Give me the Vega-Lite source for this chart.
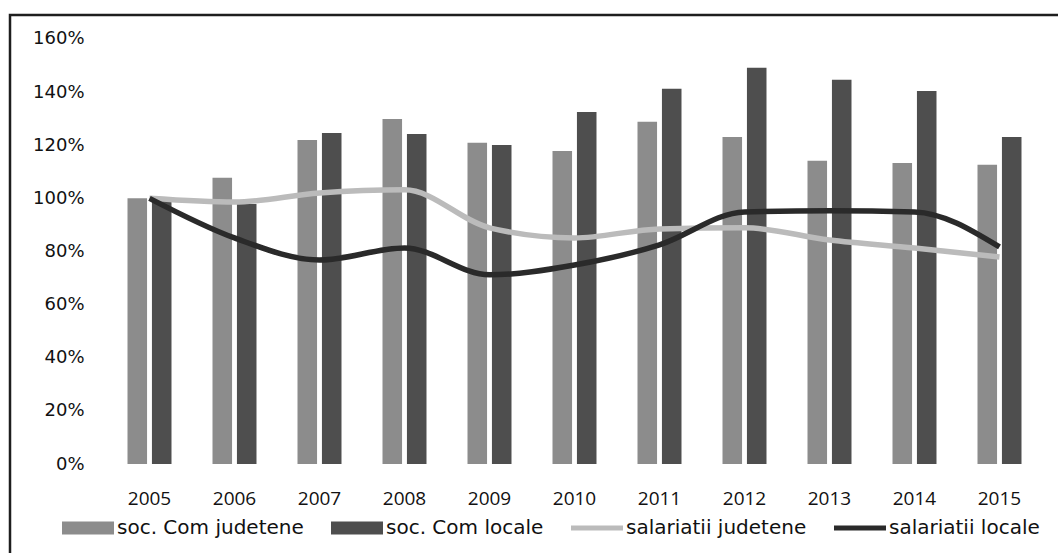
{
  "$schema": "https://vega.github.io/schema/vega-lite/v6.json",
  "width": 1060,
  "height": 550,
  "autosize": {"type": "none"},
  "padding": {"left": 10, "top": 15, "right": -12, "bottom": -12},
  "background": "white",
  "config": {"view": {"stroke": "#1e1e1e", "strokeWidth": 2.5}},
  "data": {"values": [
    {"year": "2005", "series": "soc. Com judetene", "value": 1.00},
    {"year": "2006", "series": "soc. Com judetene", "value": 1.077},
    {"year": "2007", "series": "soc. Com judetene", "value": 1.22},
    {"year": "2008", "series": "soc. Com judetene", "value": 1.299},
    {"year": "2009", "series": "soc. Com judetene", "value": 1.209},
    {"year": "2010", "series": "soc. Com judetene", "value": 1.178},
    {"year": "2011", "series": "soc. Com judetene", "value": 1.288},
    {"year": "2012", "series": "soc. Com judetene", "value": 1.231},
    {"year": "2013", "series": "soc. Com judetene", "value": 1.141},
    {"year": "2014", "series": "soc. Com judetene", "value": 1.133},
    {"year": "2015", "series": "soc. Com judetene", "value": 1.126},
    {"year": "2005", "series": "soc. Com locale", "value": 1.00},
    {"year": "2006", "series": "soc. Com locale", "value": 0.979},
    {"year": "2007", "series": "soc. Com locale", "value": 1.246},
    {"year": "2008", "series": "soc. Com locale", "value": 1.242},
    {"year": "2009", "series": "soc. Com locale", "value": 1.201},
    {"year": "2010", "series": "soc. Com locale", "value": 1.325},
    {"year": "2011", "series": "soc. Com locale", "value": 1.412},
    {"year": "2012", "series": "soc. Com locale", "value": 1.491},
    {"year": "2013", "series": "soc. Com locale", "value": 1.446},
    {"year": "2014", "series": "soc. Com locale", "value": 1.404},
    {"year": "2015", "series": "soc. Com locale", "value": 1.231},
    {"year": "2005", "series": "salariatii judetene", "value": 1.00},
    {"year": "2006", "series": "salariatii judetene", "value": 0.986},
    {"year": "2007", "series": "salariatii judetene", "value": 1.02},
    {"year": "2008", "series": "salariatii judetene", "value": 1.032},
    {"year": "2009", "series": "salariatii judetene", "value": 0.889},
    {"year": "2010", "series": "salariatii judetene", "value": 0.851},
    {"year": "2011", "series": "salariatii judetene", "value": 0.885},
    {"year": "2012", "series": "salariatii judetene", "value": 0.889},
    {"year": "2013", "series": "salariatii judetene", "value": 0.843},
    {"year": "2014", "series": "salariatii judetene", "value": 0.813},
    {"year": "2015", "series": "salariatii judetene", "value": 0.779},
    {"year": "2005", "series": "salariatii locale", "value": 1.00},
    {"year": "2006", "series": "salariatii locale", "value": 0.851},
    {"year": "2007", "series": "salariatii locale", "value": 0.768},
    {"year": "2008", "series": "salariatii locale", "value": 0.813},
    {"year": "2009", "series": "salariatii locale", "value": 0.712},
    {"year": "2010", "series": "salariatii locale", "value": 0.749},
    {"year": "2011", "series": "salariatii locale", "value": 0.825},
    {"year": "2012", "series": "salariatii locale", "value": 0.949},
    {"year": "2013", "series": "salariatii locale", "value": 0.953},
    {"year": "2014", "series": "salariatii locale", "value": 0.949},
    {"year": "2015", "series": "salariatii locale", "value": 0.817}
  ]},
  "encoding": {
    "x": {
      "field": "year",
      "type": "nominal",
      "scale": {"type": "band", "paddingInner": 0.4824, "paddingOuter": 0.9765, "align": 0.7078, "round": false},
      "axis": {
        "title": null,
        "labelAngle": 0,
        "domain": false,
        "ticks": false,
        "grid": false,
        "labelFont": "Open Sans",
        "labelFontSize": 19,
        "labelColor": "#111111",
        "labelPadding": 0,
        "labelBaseline": "top",
        "offset": -76
      }
    },
    "y": {
      "field": "value",
      "type": "quantitative",
      "scale": {"domain": [-0.38, 1.69], "nice": false, "zero": false},
      "axis": {
        "title": null,
        "values": [0, 0.2, 0.4, 0.6, 0.8, 1.0, 1.2, 1.4, 1.6],
        "format": ".0%",
        "domain": false,
        "ticks": false,
        "grid": false,
        "labelFont": "DejaVu Sans",
        "labelFontSize": 18,
        "labelColor": "#111111",
        "labelPadding": 0,
        "offset": -74
      }
    },
    "color": {
      "field": "series",
      "type": "nominal",
      "scale": {
        "domain": ["soc. Com judetene", "soc. Com locale", "salariatii judetene", "salariatii locale"],
        "range": ["#8c8c8c", "#4e4e4e", "#bbbbbb", "#2a2a2a"]
      },
      "legend": {
        "title": null,
        "orient": "none",
        "legendX": 52,
        "legendY": 487,
        "direction": "horizontal",
        "columns": 4,
        "symbolSize": 2704,
        "labelFont": "DejaVu Sans",
        "labelFontSize": 20,
        "labelColor": "#111111",
        "labelOffset": 3,
        "labelLimit": 400,
        "columnPadding": 27,
        "padding": 0,
        "encode": {
          "symbols": {
            "update": {
              "shape": {"signal": "(datum.value === 'salariatii judetene' || datum.value === 'salariatii locale') ? 'M-1,-0.1L1,-0.1L1,0.1L-1,0.1Z' : 'M-1,-0.25L1,-0.25L1,0.25L-1,0.25Z'"},
              "fill": {"scale": "color", "field": "value"},
              "stroke": {"value": "transparent"},
              "strokeWidth": {"value": 0},
              "opacity": {"value": 1}
            }
          }
        }
      }
    }
  },
  "layer": [
    {
      "transform": [{"filter": {"field": "series", "oneOf": ["soc. Com judetene", "soc. Com locale"]}}],
      "mark": {"type": "bar"},
      "encoding": {
        "xOffset": {
          "field": "series",
          "type": "nominal",
          "scale": {"domain": ["soc. Com judetene", "soc. Com locale"], "paddingInner": 0.2, "paddingOuter": 0}
        },
        "y2": {"datum": 0}
      }
    },
    {
      "transform": [{"filter": {"field": "series", "oneOf": ["salariatii judetene", "salariatii locale"]}}],
      "mark": {"type": "line", "interpolate": "monotone", "strokeWidth": 5.5},
      "encoding": {}
    }
  ]
}
